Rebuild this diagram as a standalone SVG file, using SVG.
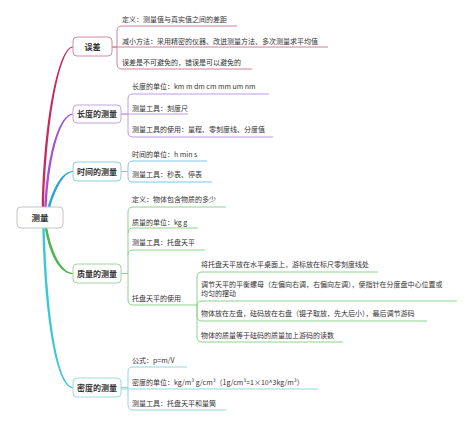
<svg xmlns="http://www.w3.org/2000/svg" width="474" height="435" viewBox="0 0 474 435">
<style>
text{font-family:"Noto Sans CJK SC","Liberation Sans",sans-serif;fill:#333}
.leaf{font-size:7px}
.node{font-size:8px;font-weight:bold;text-anchor:middle}
.root{font-size:8.5px;font-weight:bold;text-anchor:middle}
.box{fill:#fff;stroke-width:1}
.c{fill:none;stroke-width:1}
</style>
<rect width="474" height="435" fill="#fff"/>
<g id="connectors">
<path d="M41.8,207 C43.8,120 58,46.4 73,46.4 L73,47.6 C60,47.6 46.2,120 44.2,207 Z" fill="#c62a5c"/>
<path d="M44.3,207 C47,150 60,113.4 73,113.4 L73,114.6 C62,114.6 49.4,150 46.7,207 Z" fill="#a54fd6"/>
<path d="M47.7,207 C54,185 63,170.9 73,170.9 L73,172.1 C65,172.1 56.5,186 50.3,207 Z" fill="#2ba3dc"/>
<path d="M44.8,228 C50,258 61,274.1 73,274.1 L73,272.9 C63,272.9 52.5,256 47.2,228 Z" fill="#4db54f"/>
<path d="M42.3,228 C45,330 58,388.1 73,388.1 L73,386.9 C60,386.9 47.5,330 44.7,228 Z" fill="#3cc7d4"/>
<g stroke="#cf7f9a" class="c">
<path d="M112,47 H117 V31 Q117,26 122,26 H237"/>
<path d="M112,47 H328"/>
<path d="M117,47 V64 Q117,69 122,69 H252"/>
</g>
<g stroke="#c29ad9" class="c">
<path d="M121,114 H128 V99 Q128,94 133,94 H269"/>
<path d="M121,114 H188"/>
<path d="M128,114 V132 Q128,137 133,137 H273"/>
</g>
<g stroke="#7fc6e6" class="c">
<path d="M121,171.5 H128 V166 Q128,161 133,161 H207"/>
<path d="M128,171.5 V177 Q128,182 133,182 H212"/>
</g>
<g stroke="#8fd28f" class="c">
<path d="M121,273.5 H128 V212 Q128,207 133,207 H226"/>
<path d="M128,233 Q128,228 133,228 H198"/>
<path d="M128,255 Q128,250 133,250 H205"/>
<path d="M128,273.5 V300 Q128,305 133,305 H197"/>
<path d="M197,305 V277 Q197,272 202,272 H378"/>
<path d="M197,305 V306 Q197,301 202,301 H457"/>
<path d="M197,305 V316 Q197,321 202,321 H427"/>
<path d="M197,305 V337 Q197,342 202,342 H343"/>
</g>
<g stroke="#8fd8de" class="c">
<path d="M121,387.5 H128 V372 Q128,367 133,367 H187"/>
<path d="M121,389 H318"/>
<path d="M128,387.5 V405 Q128,410 133,410 H226"/>
</g>
</g>
<g id="root">
<rect class="box" x="17" y="207" width="46" height="21" rx="4" stroke="#c4c4c4"/>
<text class="root" x="40" y="220.5">测量</text>
</g>
<g id="wucha">
<rect class="box" x="73" y="37" width="39" height="19" rx="4" stroke="#d58aa3"/>
<text class="node" x="92.5" y="49.5">误差</text>
<text class="leaf" x="122" y="21.5">定义：测量值与真实值之间的差距</text>
<text class="leaf" x="122" y="43.5">减小方法：采用精密的仪器、改进测量方法、多次测量求平均值</text>
<text class="leaf" x="122" y="64.5">误差是不可避免的，错误是可以避免的</text>
</g>
<g id="changdu">
<rect class="box" x="73" y="105" width="48" height="18" rx="4" stroke="#c8a2de"/>
<text class="node" x="97" y="117">长度的测量</text>
<text class="leaf" x="132" y="88.5">长度的单位：km m dm cm mm um nm</text>
<text class="leaf" x="132" y="110.5">测量工具：刻度尺</text>
<text class="leaf" x="132" y="131.5">测量工具的使用：量程、零刻度线、分度值</text>
</g>
<g id="shijian">
<rect class="box" x="73" y="162" width="48" height="19" rx="4" stroke="#8fcde3"/>
<text class="node" x="97" y="174.5">时间的测量</text>
<text class="leaf" x="132" y="156.5">时间的单位：h min s</text>
<text class="leaf" x="132" y="176.5">测量工具：秒表、停表</text>
</g>
<g id="zhiliang">
<rect class="box" x="73" y="264" width="48" height="19" rx="4" stroke="#a0d2a0"/>
<text class="node" x="97" y="276.5">质量的测量</text>
<text class="leaf" x="132" y="201.5">定义：物体包含物质的多少</text>
<text class="leaf" x="132" y="224.5">质量的单位：kg g</text>
<text class="leaf" x="132" y="244.5">测量工具：托盘天平</text>
<text class="leaf" x="132" y="300.5">托盘天平的使用</text>
<text class="leaf" x="201" y="266.5">将托盘天平放在水平桌面上，游标放在标尺零刻度线处</text>
<text class="leaf" x="201" y="286.5">调节天平的平衡螺母（左偏向右调，右偏向左调），使指针在分度盘中心位置或</text>
<text class="leaf" x="201" y="295.8">均匀的摆动</text>
<text class="leaf" x="201" y="315.5">物体放在左盘，砝码放在右盘（镊子取放，先大后小），最后调节游码</text>
<text class="leaf" x="201" y="337.5">物体的质量等于砝码的质量加上游码的读数</text>
</g>
<g id="midu">
<rect class="box" x="73" y="378" width="48" height="19" rx="4" stroke="#9adbe0"/>
<text class="node" x="97" y="390.5">密度的测量</text>
<text class="leaf" x="132" y="362.5">公式：p=m/V</text>
<text class="leaf" x="132" y="384.5">密度的单位：kg/m³  g/cm³（1g/cm³=1×10^3kg/m³）</text>
<text class="leaf" x="132" y="405.5">测量工具：托盘天平和量筒</text>
</g>
</svg>
